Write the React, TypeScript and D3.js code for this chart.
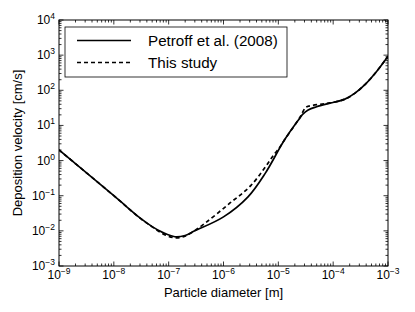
import React from 'react';
import * as d3 from 'd3';

// Petroff et al. (2008) curve: particle diameter [m] vs deposition velocity [cm/s]
const petroffD = [1e-9, 1e-8, 3.0e-8, 5.0e-8, 7.9e-8, 1.3e-7, 2.0e-7, 3.0e-7, 1e-6, 2.8e-6, 5.8e-6, 1.3e-5, 2.5e-5, 2.8e-5, 3.5e-5, 5.0e-5, 8.7e-5, 1.6e-4, 2.5e-4, 4.0e-4, 6.3e-4, 1e-3];
const petroffV = [2.0, 0.1, 0.0234, 0.0132, 0.0089, 0.0068, 0.0074, 0.010, 0.025, 0.093, 0.44, 3.9, 16.6, 21, 27.5, 34, 43, 55, 83, 158, 355, 930];

// This study
const studyD = [1e-9, 1e-8, 3.0e-8, 5.0e-8, 7.9e-8, 1.25e-7, 1.8e-7, 2.5e-7, 4.6e-7, 1.23e-6, 3.2e-6, 8.7e-6, 1.07e-5, 1.3e-5, 2.5e-5, 3.1e-5, 3.5e-5, 6.3e-5, 8.7e-5, 1.6e-4, 2.5e-4, 4.0e-4, 6.3e-4, 1e-3];
const studyV = [2.0, 0.1, 0.023, 0.013, 0.0082, 0.0064, 0.0067, 0.0085, 0.0165, 0.057, 0.2, 1.62, 2.45, 3.9, 17.4, 31.6, 35, 40.7, 43.6, 55, 83, 158, 355, 930];

const xTickExps = [-9, -8, -7, -6, -5, -4, -3];
const yTickExps = [-3, -2, -1, 0, 1, 2, 3, 4];
const legendLabels = ['Petroff et al. (2008)', 'This study'];
const xLabel = 'Particle diameter [m]';
const yLabel = 'Deposition velocity [cm/s]';

const W = 415;
const H = 312;
const left = 59, right = 388, top = 20, bottom = 266;
const FONT = 'Liberation Sans, Arial, Helvetica, sans-serif';

function minorTicks(exps: number[]) {
  const out: number[] = [];
  for (let i = 0; i < exps.length - 1; i++) {
    for (let k = 2; k <= 9; k++) out.push(k * Math.pow(10, exps[i]));
  }
  return out;
}

function sup(e: number) {
  return e < 0 ? '\u2212' + Math.abs(e) : String(e);
}

export default function App() {
  const x = d3.scaleLog().domain([1e-9, 1e-3]).range([left, right]);
  const y = d3.scaleLog().domain([1e-3, 1e4]).range([bottom, top]);

  const line = d3
    .line<[number, number]>()
    .x((d) => x(d[0]))
    .y((d) => y(d[1]))
    .curve(d3.curveCatmullRom.alpha(0.5));

  const petroff = line(petroffD.map((d, i) => [d, petroffV[i]] as [number, number])) || '';
  const study = line(studyD.map((d, i) => [d, studyV[i]] as [number, number])) || '';

  const xMajor = xTickExps.map((e) => Math.pow(10, e));
  const yMajor = yTickExps.map((e) => Math.pow(10, e));
  const xMinor = minorTicks(xTickExps);
  const yMinor = minorTicks(yTickExps);

  const majL = 4.5, minL = 2.5;

  const lx0 = 65, ly0 = 27, lw = 222, lh = 50;

  return (
    <svg
      width={W}
      height={H}
      style={{ position: 'absolute', left: 0, top: 0, background: '#fff' }}
      fontFamily={FONT}
    >
      <rect x={0} y={0} width={W} height={H} fill="#fff" />
      <defs>
        <clipPath id="plotclip">
          <rect x={left} y={top} width={right - left} height={bottom - top} />
        </clipPath>
      </defs>

      {/* curves */}
      <g clipPath="url(#plotclip)">
        <path d={petroff} fill="none" stroke="#000" strokeWidth={1.7} />
        <path d={study} fill="none" stroke="#000" strokeWidth={1.7} strokeDasharray="4,3" />
      </g>

      {/* ticks */}
      <g stroke="#000" strokeWidth={0.8}>
        {xMajor.map((v, i) => (
          <g key={'xM' + i}>
            <line x1={x(v)} x2={x(v)} y1={bottom} y2={bottom - majL} />
            <line x1={x(v)} x2={x(v)} y1={top} y2={top + majL} />
          </g>
        ))}
        {xMinor.map((v, i) => (
          <g key={'xm' + i}>
            <line x1={x(v)} x2={x(v)} y1={bottom} y2={bottom - minL} />
            <line x1={x(v)} x2={x(v)} y1={top} y2={top + minL} />
          </g>
        ))}
        {yMajor.map((v, i) => (
          <g key={'yM' + i}>
            <line x1={left} x2={left + majL} y1={y(v)} y2={y(v)} />
            <line x1={right} x2={right - majL} y1={y(v)} y2={y(v)} />
          </g>
        ))}
        {yMinor.map((v, i) => (
          <g key={'ym' + i}>
            <line x1={left} x2={left + minL} y1={y(v)} y2={y(v)} />
            <line x1={right} x2={right - minL} y1={y(v)} y2={y(v)} />
          </g>
        ))}
      </g>

      {/* frame */}
      <rect x={left} y={top} width={right - left} height={bottom - top} fill="none" stroke="#000" strokeWidth={1} />

      {/* x tick labels */}
      {xTickExps.map((e) => (
        <text key={'xl' + e} x={x(Math.pow(10, e))} y={279} textAnchor="middle" fontSize={12} fill="#000">
          10
          <tspan fontSize={8.5} dy={-5}>{sup(e)}</tspan>
        </text>
      ))}

      {/* y tick labels */}
      {yTickExps.map((e) => (
        <text key={'yl' + e} x={55} y={y(Math.pow(10, e)) + 4} textAnchor="end" fontSize={12} fill="#000">
          10
          <tspan fontSize={8.5} dy={-5}>{sup(e)}</tspan>
        </text>
      ))}

      {/* axis labels */}
      <text x={(left + right) / 2} y={297} textAnchor="middle" fontSize={13} fill="#000">
        {xLabel}
      </text>
      <text
        transform={`translate(22, ${(top + bottom) / 2}) rotate(-90)`}
        textAnchor="middle"
        fontSize={13}
        fill="#000"
      >
        {yLabel}
      </text>

      {/* legend */}
      <rect x={lx0} y={ly0} width={lw} height={lh} fill="#fff" stroke="#000" strokeWidth={0.8} />
      <line x1={77} x2={131} y1={40.5} y2={40.5} stroke="#000" strokeWidth={1.7} />
      <line x1={77} x2={131} y1={62.5} y2={62.5} stroke="#000" strokeWidth={1.7} strokeDasharray="4,3" />
      <text x={148} y={46} fontSize={15.2} fill="#000">{legendLabels[0]}</text>
      <text x={148} y={68} fontSize={15.2} fill="#000">{legendLabels[1]}</text>
    </svg>
  );
}
